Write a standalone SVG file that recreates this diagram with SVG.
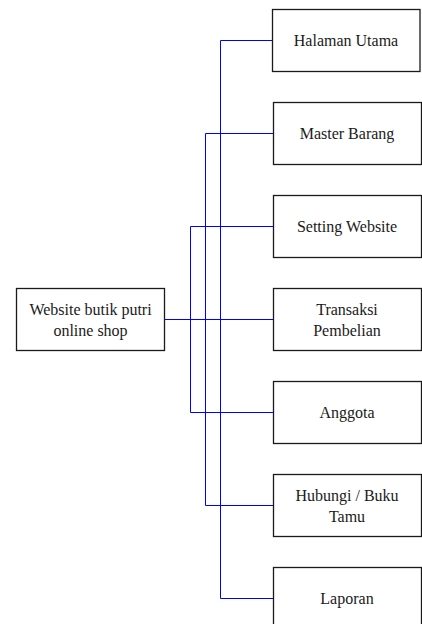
<svg xmlns="http://www.w3.org/2000/svg" width="422" height="624" viewBox="0 0 422 624">
<style>
.box{fill:#fff;stroke:#1a1a1a;stroke-width:1.3}
.lbl{font-family:"Liberation Serif","Times New Roman",serif;font-size:16px;fill:#1a1a1a;text-anchor:middle}
.c{fill:none;stroke:#0000ff;stroke-width:1}
</style>
<rect width="422" height="624" fill="#fff"/>
<g id="connectors">
<path class="c" d="M164.5 319.5H273"/>
<path class="c" d="M220.5 319.5V40.5H272"/>
<path class="c" d="M220.5 319.5V598.5H273"/>
<path class="c" d="M205.5 319.5V133.5H273"/>
<path class="c" d="M205.5 319.5V505.5H273"/>
<path class="c" d="M190.5 319.5V226.5H273"/>
<path class="c" d="M190.5 319.5V412.5H273"/>
</g>
<g id="root">
<rect class="box" x="16.5" y="288.5" width="148" height="62"/>
<text class="lbl" x="90.5" y="314.5">Website butik putri</text>
<text class="lbl" x="90.5" y="335.5">online shop</text>
</g>
<g id="halaman-utama">
<rect class="box" x="272.5" y="9.5" width="147.5" height="62"/>
<text class="lbl" x="346" y="45.5">Halaman Utama</text>
</g>
<g id="master-barang">
<rect class="box" x="273.5" y="102.5" width="148" height="62"/>
<text class="lbl" x="347" y="138.5">Master Barang</text>
</g>
<g id="setting-website">
<rect class="box" x="273.5" y="195.5" width="148" height="62"/>
<text class="lbl" x="347" y="231.5">Setting Website</text>
</g>
<g id="transaksi-pembelian">
<rect class="box" x="273.5" y="288.5" width="148" height="62"/>
<text class="lbl" x="347" y="314.5">Transaksi</text>
<text class="lbl" x="347" y="335.5">Pembelian</text>
</g>
<g id="anggota">
<rect class="box" x="273.5" y="381.5" width="148" height="62"/>
<text class="lbl" x="347" y="417.5">Anggota</text>
</g>
<g id="hubungi-buku-tamu">
<rect class="box" x="273.5" y="474.5" width="148" height="62"/>
<text class="lbl" x="347" y="500.5">Hubungi / Buku</text>
<text class="lbl" x="347" y="521.5">Tamu</text>
</g>
<g id="laporan">
<rect class="box" x="273.5" y="567.5" width="148" height="62"/>
<text class="lbl" x="347" y="603.5">Laporan</text>
</g>
</svg>
